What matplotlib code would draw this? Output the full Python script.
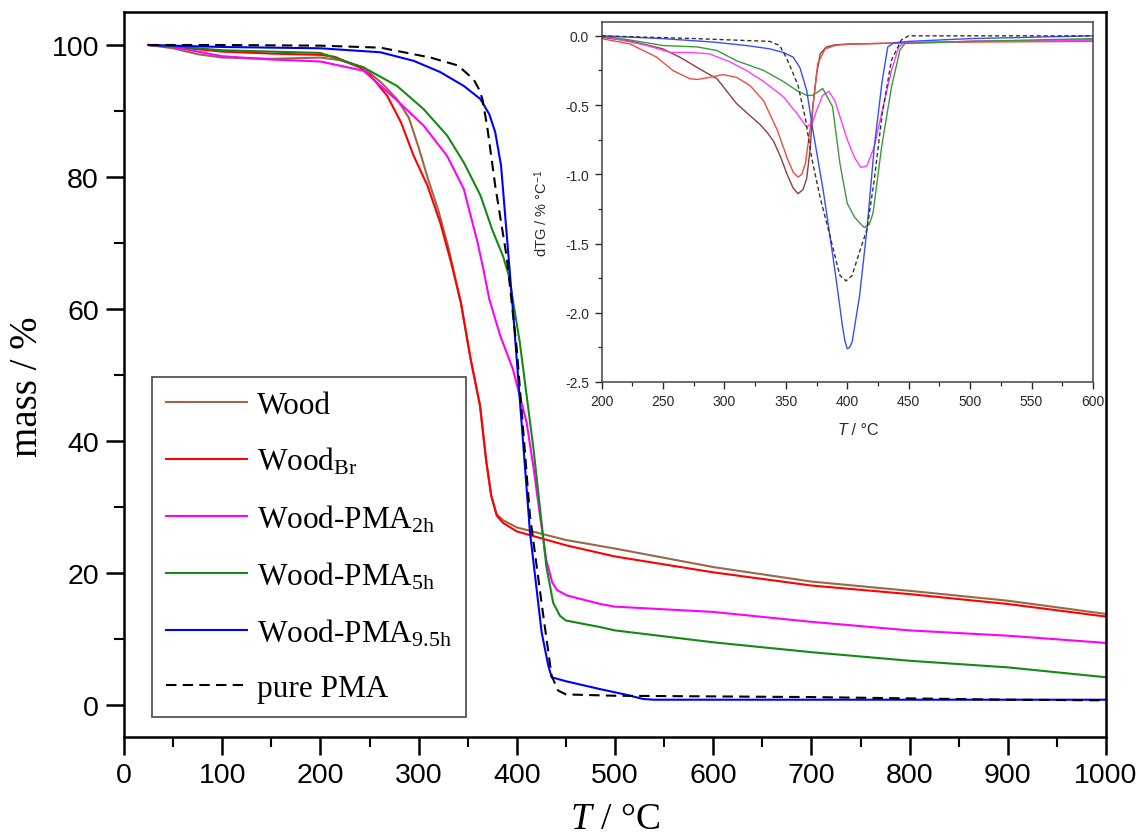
import matplotlib
matplotlib.use("Agg")
import matplotlib.pyplot as plt
from matplotlib.ticker import MultipleLocator, FormatStrFormatter

plt.rcParams["font.family"] = ["Liberation Sans", "DejaVu Sans"]
plt.rcParams["mathtext.fontset"] = "custom"
plt.rcParams["mathtext.rm"] = "Liberation Serif"
plt.rcParams["mathtext.it"] = "Liberation Serif:italic"
plt.rcParams["mathtext.sf"] = "Liberation Sans"
plt.rcParams["axes.unicode_minus"] = False

# ---- TG curves: temperature (°C) and residual mass (%) ----
wood_T = [25, 50, 75, 100, 150, 200, 220, 244, 262, 278, 290, 300, 310, 320, 330,
          343, 353, 362.5, 369, 374, 379.5, 386, 400, 450, 500, 600, 700, 800, 900, 1000]
wood_m = [100, 99.5, 98.6, 98.1, 97.9, 98.1, 97.7, 96.6, 94.3, 91.8, 89.0, 84.5, 79.5, 75.0, 69.5,
          61.0, 52.4, 45.4, 36.8, 31.7, 28.9, 28.0, 26.9, 25.0, 23.7, 20.9, 18.7, 17.3, 15.8, 13.8]

woodbr_T = [25, 50, 100, 150, 200, 215, 227, 240, 251, 268, 282, 295, 309, 322, 333,
            343, 353, 362.5, 369, 374, 379.5, 386, 400, 450, 500, 600, 700, 800, 900, 1000]
woodbr_m = [100, 99.7, 99.0, 98.7, 98.5, 98.2, 97.4, 96.6, 95.4, 92.3, 88.3, 83.2, 78.7, 73.1, 67.1,
            61.0, 52.4, 45.4, 36.8, 31.7, 28.7, 27.6, 26.3, 24.2, 22.5, 20.1, 18.1, 16.8, 15.3, 13.4]

pma2h_T = [25, 50, 75, 100, 150, 200, 244, 278, 305, 329, 346, 360, 366, 372, 383,
           396, 410, 417, 423.6, 430, 436, 441, 451, 485, 500, 600, 700, 800, 900, 1000]
pma2h_m = [100, 99.7, 99.0, 98.3, 97.8, 97.5, 96.1, 91.6, 87.8, 83.2, 78.2, 70.1, 66.0, 61.5, 56.0,
           50.9, 42.8, 36.0, 28.7, 22.0, 18.6, 17.4, 16.6, 15.3, 14.9, 14.1, 12.6, 11.3, 10.5, 9.4]

pma5h_T = [25, 50, 100, 150, 200, 244, 278, 305, 329, 346, 363, 375, 386, 392,
           403, 417, 430, 437, 444, 450, 485, 500, 600, 700, 800, 900, 1000]
pma5h_m = [100, 99.8, 99.2, 99.0, 98.8, 96.6, 93.8, 90.3, 86.3, 82.2, 77.2, 72.0, 68.0, 65.0,
           55.0, 38.8, 21.1, 15.5, 13.5, 12.8, 11.8, 11.3, 9.5, 8.0, 6.7, 5.7, 4.2]

pma95h_T = [25, 100, 200, 261, 295, 322, 346, 363, 372, 378, 384, 391, 396.5,
            403, 413.4, 425.3, 432, 435.5, 450, 485, 510, 529, 540, 600, 800, 1000]
pma95h_m = [100, 99.7, 99.5, 98.9, 97.6, 95.9, 93.8, 91.8, 89.5, 86.8, 81.7, 69.0, 59.0,
            46.4, 26.2, 11.0, 6.0, 4.2, 3.6, 2.4, 1.6, 0.9, 0.8, 0.8, 0.8, 0.8]

pma_T = [25, 100, 200, 261, 312, 340, 356, 361.5, 365, 370, 378, 390, 400,
         413.4, 427, 435.5, 442, 450, 500, 600, 700, 800, 900, 1000]
pma_m = [100, 100, 99.9, 99.6, 98.1, 96.9, 94.8, 93.3, 91.8, 87.5, 78.7, 67.6, 53.9,
         28.7, 13.5, 4.4, 2.2, 1.6, 1.4, 1.3, 1.2, 1.0, 0.8, 0.7]

# ---- dTG curves (inset): temperature (°C) and rate (% °C^-1) ----
d_wood_T = [200, 225, 250, 265, 280, 294, 302, 310, 320, 329, 335, 340, 346, 351, 356,
            360, 364, 367, 370, 372, 375, 378, 383, 390, 400, 450, 500, 600]
d_wood_v = [-0.01, -0.04, -0.094, -0.16, -0.24, -0.31, -0.40, -0.49, -0.57, -0.64, -0.70, -0.76,
            -0.88, -1.00, -1.10, -1.14, -1.11, -1.03, -0.80, -0.51, -0.28, -0.13, -0.08, -0.065,
            -0.06, -0.05, -0.04, -0.03]

d_woodbr_T = [200, 223, 245, 258, 272, 278, 288, 299, 310, 321, 332, 343, 351, 356, 360,
              363, 366, 371, 376, 382, 390, 400, 450, 500, 600]
d_woodbr_v = [-0.02, -0.058, -0.154, -0.25, -0.31, -0.315, -0.30, -0.28, -0.30, -0.36, -0.47,
              -0.68, -0.88, -0.985, -1.02, -1.00, -0.92, -0.59, -0.20, -0.094, -0.07, -0.06,
              -0.05, -0.045, -0.04]

d_pma2h_T = [200, 237, 256, 272, 288, 305, 318, 332, 348, 359, 367, 372, 375, 380, 385,
             390, 400, 406, 411, 416, 422, 428, 436, 442, 446, 500, 600]
d_pma2h_v = [0.0, -0.07, -0.12, -0.12, -0.13, -0.19, -0.25, -0.33, -0.44, -0.56, -0.66, -0.62,
             -0.54, -0.43, -0.40, -0.47, -0.75, -0.88, -0.95, -0.94, -0.80, -0.56, -0.25, -0.08,
             -0.05, -0.04, -0.03]

d_pma5h_T = [200, 223, 250, 278, 294, 310, 332, 348, 359, 367, 372, 380, 388, 394, 400,
             406, 410, 414, 418, 421, 428, 436, 443, 447, 500, 600]
d_pma5h_v = [0.0, -0.03, -0.07, -0.08, -0.106, -0.18, -0.25, -0.33, -0.395, -0.43, -0.43, -0.38,
             -0.51, -0.92, -1.21, -1.31, -1.35, -1.385, -1.36, -1.28, -0.80, -0.37, -0.10,
             -0.055, -0.04, -0.02]

d_pma95h_T = [200, 250, 291, 318, 337, 348, 356, 361.5, 367, 372, 380.5, 386, 391, 396,
              398, 400, 402, 404, 410, 416, 422, 428.5, 433, 438, 450, 500, 600]
d_pma95h_v = [0.0, -0.02, -0.045, -0.07, -0.094, -0.12, -0.154, -0.23, -0.395, -0.68, -1.12,
              -1.45, -1.76, -2.09, -2.20, -2.26, -2.25, -2.21, -1.88, -1.40, -0.80, -0.32,
              -0.08, -0.05, -0.04, -0.02, 0.0]

d_pma_T = [200, 277, 318, 337, 345, 350, 355, 360, 366, 371, 378, 383.5, 388, 394, 399,
           404, 410, 416, 422, 428.5, 436, 444, 450, 600]
d_pma_v = [0.0, -0.02, -0.034, -0.04, -0.07, -0.15, -0.25, -0.36, -0.60, -0.88, -1.17, -1.36,
           -1.52, -1.73, -1.77, -1.73, -1.56, -1.40, -1.04, -0.56, -0.175, -0.03, 0.0, 0.0]

labels = ["Wood", r"Wood$_{\mathrm{Br}}$", r"Wood-PMA$_{\mathrm{2h}}$",
          r"Wood-PMA$_{\mathrm{5h}}$", r"Wood-PMA$_{\mathrm{9.5h}}$", "pure PMA"]
main_colors = ["#986848", "#ff0000", "#ff00ff", "#138a13", "#0000ff", "#000000"]
inset_colors = ["#8a4040", "#f24a40", "#ff3cff", "#3a9a3a", "#3a4cff", "#333333"]

tg = [(wood_T, wood_m), (woodbr_T, woodbr_m), (pma2h_T, pma2h_m),
      (pma5h_T, pma5h_m), (pma95h_T, pma95h_m), (pma_T, pma_m)]
dtg = [(d_wood_T, d_wood_v), (d_woodbr_T, d_woodbr_v), (d_pma2h_T, d_pma2h_v),
       (d_pma5h_T, d_pma5h_v), (d_pma95h_T, d_pma95h_v), (d_pma_T, d_pma_v)]

W, H = 1140, 837
fig = plt.figure(figsize=(W / 100, H / 100), dpi=100)

# main TG panel
ax = fig.add_axes([124 / W, (H - 738) / H, (1106 - 124) / W, (738 - 13) / H])
for (t, m), lab, c in zip(tg, labels, main_colors):
    if lab == "pure PMA":
        ax.plot(t, m, color=c, lw=1.5, ls=(0, (5, 3)), label=lab, zorder=3)
    else:
        ax.plot(t, m, color=c, lw=1.5, label=lab)

ax.set_xlim(0, 1000)
ax.set_ylim(-4.85, 105)
ax.xaxis.set_major_locator(MultipleLocator(100))
ax.xaxis.set_minor_locator(MultipleLocator(50))
ax.yaxis.set_major_locator(MultipleLocator(20))
ax.yaxis.set_minor_locator(MultipleLocator(10))
ax.tick_params(which="major", direction="out", length=13, width=1.8, labelsize=20.5, pad=5,
               top=False, right=False)
ax.tick_params(which="minor", direction="out", length=7, width=1.5, top=False, right=False)
for sp in ax.spines.values():
    sp.set_linewidth(1.8)

ax.set_xlabel(r"$T$ / °C", family="Liberation Serif", fontsize=27, labelpad=10)
ax.set_ylabel("mass / %", family="Liberation Serif", fontsize=28)
ax.yaxis.set_label_coords(-0.079, 0.485)

leg = ax.legend(loc="lower left", bbox_to_anchor=(0.0285, 0.0276), borderaxespad=0,
                prop={"family": "Liberation Serif", "size": 22.5},
                handlelength=2.6, handletextpad=0.3, labelspacing=0.82,
                borderpad=0.45, fancybox=False, framealpha=1)
leg.get_frame().set_edgecolor("#555555")
leg.get_frame().set_linewidth(1.3)

# inset dTG panel
ai = fig.add_axes([601.5 / W, (H - 383) / H, (1093 - 601.5) / W, (383 - 23) / H])
for (t, v), lab, c in zip(dtg, labels, inset_colors):
    if lab == "pure PMA":
        ai.plot(t, v, color=c, lw=1.0, ls=(0, (3, 2)), zorder=3)
    else:
        ai.plot(t, v, color=c, lw=1.0)

ai.set_xlim(200, 600)
ai.set_ylim(-2.5, 0.1)
ai.xaxis.set_major_locator(MultipleLocator(50))
ai.xaxis.set_minor_locator(MultipleLocator(25))
ai.yaxis.set_major_locator(MultipleLocator(0.5))
ai.yaxis.set_minor_locator(MultipleLocator(0.25))
ai.yaxis.set_major_formatter(FormatStrFormatter("%.1f"))
ai.tick_params(which="major", direction="out", length=5, width=1.0, labelsize=10,
               colors="#2a2a2a", pad=4)
ai.tick_params(which="minor", direction="out", length=3, width=0.9, colors="#2a2a2a")
for sp in ai.spines.values():
    sp.set_linewidth(1.1)
    sp.set_color("#444444")

ai.set_ylabel(r"dTG / % °C$^{\mathsf{-1}}$", fontsize=10.5, color="#2a2a2a")
ai.yaxis.set_label_coords(-0.105, 0.47)
t_it = ai.text(0.5, -0.11, "T", transform=ai.transAxes, fontsize=11.5, style="italic",
               color="#2a2a2a", ha="right", va="top")
ai.annotate(" / °C", xy=(1, 0), xycoords=t_it, fontsize=11.5, color="#2a2a2a",
            ha="left", va="bottom")

fig.savefig("out.png", dpi=100)
